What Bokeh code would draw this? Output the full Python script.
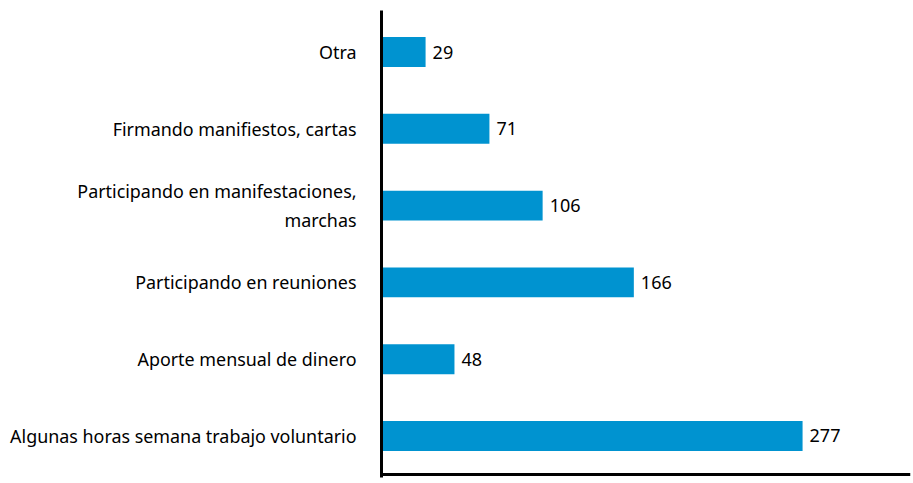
from bokeh.plotting import figure
from bokeh.models import ColumnDataSource, FactorRange, Range1d, Span
from bokeh.embed import file_html
from bokeh.resources import INLINE
from bokeh.core.properties import value

categories = [
    "Algunas horas semana trabajo voluntario",
    "Aporte mensual de dinero",
    "Participando en reuniones",
    "Participando en manifestaciones,\nmarchas",
    "Firmando manifiestos, cartas",
    "Otra",
]
values = [277, 48, 166, 106, 71, 29]
labels = [str(v) for v in values]

src = ColumnDataSource(dict(cat=categories, val=values, lab=labels))

p = figure(width=913, height=483,
           y_range=FactorRange(factors=categories, range_padding=0.0135),
           x_range=Range1d(0, 348), output_backend="svg", toolbar_location=None,
           min_border_left=381, min_border_right=3, min_border_top=10, min_border_bottom=6)
p.outline_line_color = None
p.background_fill_color = "white"
p.border_fill_color = "white"
p.grid.visible = False

p.hbar(y="cat", right="val", left=0, height=0.39, source=src,
       fill_color="#0093D0", line_color=None)
p.text(x="val", y="cat", text="lab", source=src, x_offset=7,
       text_baseline="middle", text_align="left", text_font_size="18px",
       text_font=value("Noto Sans"), text_color="black")

p.xaxis.visible = False
yax = p.yaxis[0]
yax.axis_line_width = 3
yax.axis_line_color = "black"
yax.major_tick_line_color = None
yax.minor_tick_line_color = None
yax.major_label_standoff = 19
yax.major_label_text_font = "Noto Sans"
yax.major_label_text_font_size = "17.9px"
yax.major_label_text_color = "black"

p.add_layout(Span(location=0, dimension="width", line_color="black", line_width=3))

open("out.html", "w").write(file_html(p, INLINE))
